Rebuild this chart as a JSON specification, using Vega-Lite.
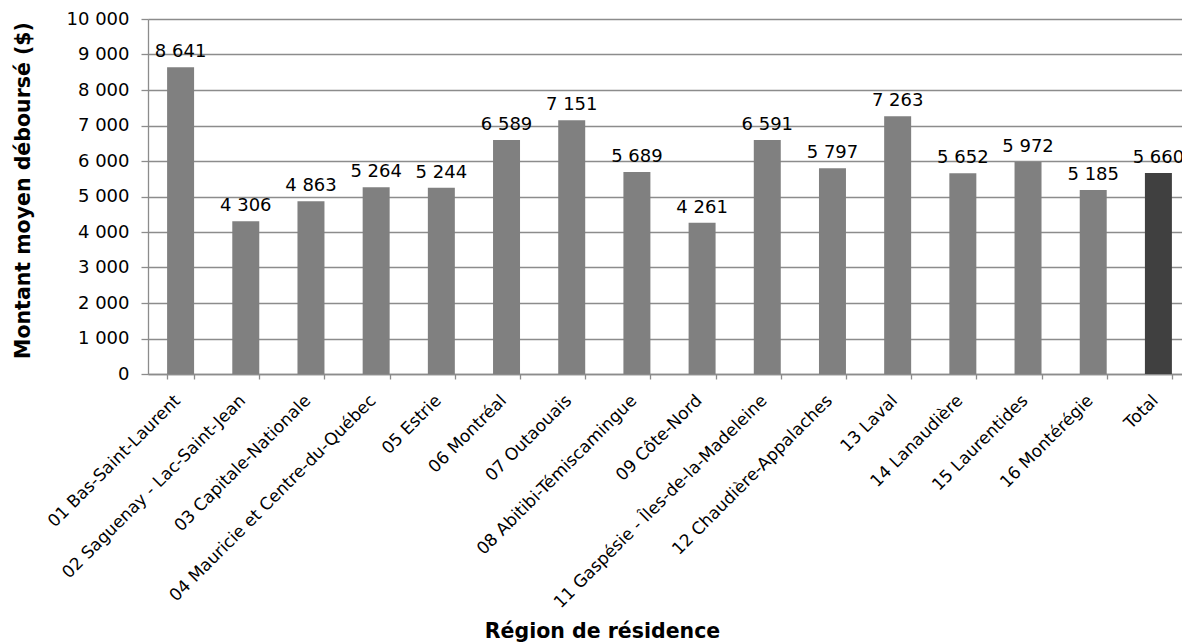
{
  "$schema": "https://vega.github.io/schema/vega-lite/v6.json",
  "autosize": {"type": "none"},
  "padding": {"left": 148, "top": 19, "right": 0, "bottom": 269},
  "width": 1034,
  "height": 355,
  "background": "white",
  "config": {
    "locale": {"number": {"decimal": ",", "thousands": " ", "grouping": [3], "currency": ["", " $"]}},
    "view": {"stroke": null},
    "font": "DejaVu Sans",
    "axis": {
      "domainColor": "#8c8c8c",
      "domainWidth": 1.3,
      "tickColor": "#8c8c8c",
      "tickWidth": 1.3,
      "gridColor": "#8c8c8c",
      "gridWidth": 1.3,
      "labelColor": "#000000",
      "titleColor": "#000000",
      "labelFont": "DejaVu Sans",
      "titleFont": "DejaVu Sans"
    }
  },
  "data": {
    "values": [
      {"region": "01 Bas-Saint-Laurent", "montant": 8641, "type": "Région"},
      {"region": "02 Saguenay - Lac-Saint-Jean", "montant": 4306, "type": "Région"},
      {"region": "03 Capitale-Nationale", "montant": 4863, "type": "Région"},
      {"region": "04 Mauricie et Centre-du-Québec", "montant": 5264, "type": "Région"},
      {"region": "05 Estrie", "montant": 5244, "type": "Région"},
      {"region": "06 Montréal", "montant": 6589, "type": "Région"},
      {"region": "07 Outaouais", "montant": 7151, "type": "Région"},
      {"region": "08 Abitibi-Témiscamingue", "montant": 5689, "type": "Région"},
      {"region": "09 Côte-Nord", "montant": 4261, "type": "Région"},
      {"region": "11 Gaspésie - Îles-de-la-Madeleine", "montant": 6591, "type": "Région"},
      {"region": "12 Chaudière-Appalaches", "montant": 5797, "type": "Région"},
      {"region": "13 Laval", "montant": 7263, "type": "Région"},
      {"region": "14 Lanaudière", "montant": 5652, "type": "Région"},
      {"region": "15 Laurentides", "montant": 5972, "type": "Région"},
      {"region": "16 Montérégie", "montant": 5185, "type": "Région"},
      {"region": "Total", "montant": 5660, "type": "Total"}
    ]
  },
  "encoding": {
    "x": {
      "field": "region",
      "type": "nominal",
      "sort": null,
      "scale": {"range": [0, 1043], "paddingInner": 0.586, "paddingOuter": 0.293},
      "axis": {
        "title": "Région de résidence",
        "titleFontSize": 20.5,
        "titleFontWeight": "bold",
        "titleX": 454,
        "titleY": 263,
        "titleAlign": "center",
        "titleBaseline": "alphabetic",
        "tickBand": "extent",
        "tickSize": 5,
        "labelAngle": -45,
        "labelAlign": "right",
        "labelBaseline": "top",
        "labelFontSize": 17,
        "labelPadding": 13,
        "labelOffset": -9,
        "labelLimit": 400,
        "labelOverlap": false,
        "grid": false
      }
    },
    "y": {
      "field": "montant",
      "type": "quantitative",
      "scale": {"domain": [0, 10000], "nice": false},
      "axis": {
        "title": "Montant moyen déboursé ($)",
        "titleFontSize": 20.5,
        "titleFontWeight": "bold",
        "titleX": -119,
        "titleY": 171,
        "titleAngle": 270,
        "titleAlign": "center",
        "titleBaseline": "alphabetic",
        "values": [0, 1000, 2000, 3000, 4000, 5000, 6000, 7000, 8000, 9000, 10000],
        "format": ",d",
        "labelFontSize": 18,
        "tickSize": 7,
        "labelPadding": 12,
        "grid": true
      }
    }
  },
  "layer": [
    {
      "mark": {"type": "bar"},
      "encoding": {
        "color": {
          "field": "type",
          "type": "nominal",
          "scale": {"domain": ["Région", "Total"], "range": ["#808080", "#404040"]},
          "legend": null
        }
      }
    },
    {
      "mark": {"type": "text", "baseline": "alphabetic", "dy": -10, "fontSize": 18, "color": "#000000", "font": "DejaVu Sans"},
      "encoding": {
        "text": {"field": "montant", "type": "quantitative", "format": ",d"}
      }
    }
  ]
}
